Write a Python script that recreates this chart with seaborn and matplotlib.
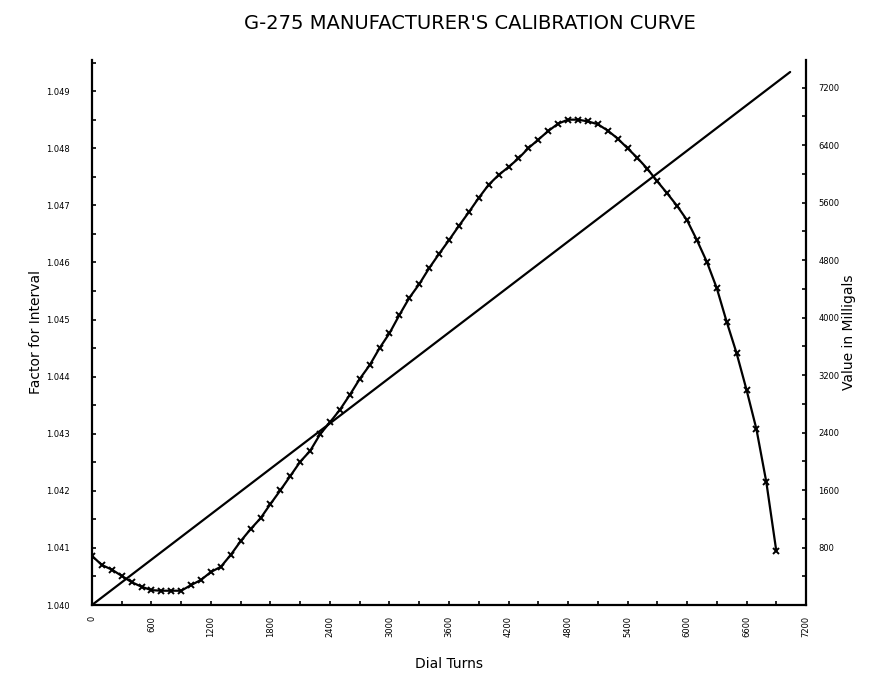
import matplotlib
matplotlib.use("Agg")
import matplotlib.pyplot as plt
import seaborn as sns
import pandas as pd
from matplotlib.ticker import MultipleLocator, FixedLocator

# ---- data ----
dial_turns = list(range(0, 7000, 100))
factor_for_interval = [
    1.04086, 1.04070, 1.04062, 1.04051, 1.04040, 1.04032, 1.04026, 1.04025, 1.04025, 1.04025,
    1.04035, 1.04044, 1.04058, 1.04067, 1.04088, 1.04112, 1.04133, 1.04152, 1.04177, 1.04201,
    1.04226, 1.04251, 1.04270, 1.04299, 1.04320, 1.04342, 1.04368, 1.04396, 1.04420, 1.04450,
    1.04476, 1.04508, 1.04538, 1.04562, 1.04590, 1.04615, 1.04639, 1.04664, 1.04688, 1.04713,
    1.04736, 1.04753, 1.04767, 1.04782, 1.04800, 1.04815, 1.04830, 1.04843, 1.04850, 1.04850,
    1.04847, 1.04842, 1.04831, 1.04817, 1.04800, 1.04783, 1.04764, 1.04742, 1.04721, 1.04699,
    1.04674, 1.04639, 1.04601, 1.04555, 1.04496, 1.04441, 1.04377, 1.04308, 1.04215, 1.04095,
]
line_dial = [0, 7040]
line_milligals = [0, 7416]

x_ticks = list(range(0, 7201, 600))
left_ticks = [1.040, 1.041, 1.042, 1.043, 1.044, 1.045, 1.046, 1.047, 1.048, 1.049]
left_labels = ["1.040", "1.041", "1.042", "1.043", "1.044", "1.045", "1.046", "1.047", "1.048", "1.049"]
right_ticks = [800, 1600, 2400, 3200, 4000, 4800, 5600, 6400, 7200]

title = "G-275 MANUFACTURER'S CALIBRATION CURVE"

# ---- figure ----
sns.set_style("ticks")
plt.rcParams['font.family'] = ['DejaVu Sans']
plt.rcParams['text.color'] = 'black'
plt.rcParams['axes.labelcolor'] = 'black'

fig = plt.figure(figsize=(8.87, 6.81), dpi=100)
ax = fig.add_axes([0.1037, 0.1116, 0.805, 0.8003])
ax2 = ax.twinx()

curve = pd.DataFrame({"dial": dial_turns, "factor": factor_for_interval})
line = pd.DataFrame({"dial": line_dial, "mgal": line_milligals})

sns.lineplot(data=curve, x="dial", y="factor", ax=ax, color="black",
             marker="x", markersize=5, markeredgewidth=1.4,
             markeredgecolor="black", markerfacecolor="black", linewidth=1.6)
sns.lineplot(data=line, x="dial", y="mgal", ax=ax2, color="black", linewidth=1.6)

ax.set_xlim(0, 7200)
ax.set_ylim(1.040, 1.049545)
ax2.set_ylim(0, 7583)

for a in (ax, ax2):
    a.spines['top'].set_visible(False)
    for s in a.spines.values():
        s.set_linewidth(1.6)
        s.set_color('black')
ax.spines['right'].set_visible(False)
ax2.spines['left'].set_visible(False)
ax2.spines['bottom'].set_visible(False)

ax.xaxis.set_major_locator(FixedLocator(x_ticks))
ax.set_xticklabels([str(v) for v in x_ticks], rotation=90, fontsize=6)
ax.xaxis.set_minor_locator(MultipleLocator(300))
ax.yaxis.set_major_locator(FixedLocator(left_ticks))
ax.set_yticklabels(left_labels, fontsize=6)
ax.yaxis.set_minor_locator(MultipleLocator(0.0005))
ax2.yaxis.set_major_locator(FixedLocator(right_ticks))
ax2.set_yticklabels([str(v) for v in right_ticks], fontsize=6)
ax2.yaxis.set_minor_locator(MultipleLocator(400))

ax.tick_params(axis='x', which='both', direction='in', length=3, width=1.2, pad=8, colors='black')
ax.tick_params(axis='y', which='both', direction='in', length=3, width=1.2, pad=16, colors='black')
ax2.tick_params(axis='y', which='both', direction='in', length=3, width=1.2, pad=9, colors='black')

ax.set_xlabel("Dial Turns", fontsize=10, labelpad=14)
ax.set_ylabel("Factor for Interval", fontsize=10, labelpad=2)
ax2.set_ylabel("Value in Milligals", fontsize=10, labelpad=2)
ax.grid(False)
ax2.grid(False)

fig.text(0.53, 0.965, title, ha='center', va='center', fontsize=14, color='black')

fig.savefig("out.png", dpi=100)
